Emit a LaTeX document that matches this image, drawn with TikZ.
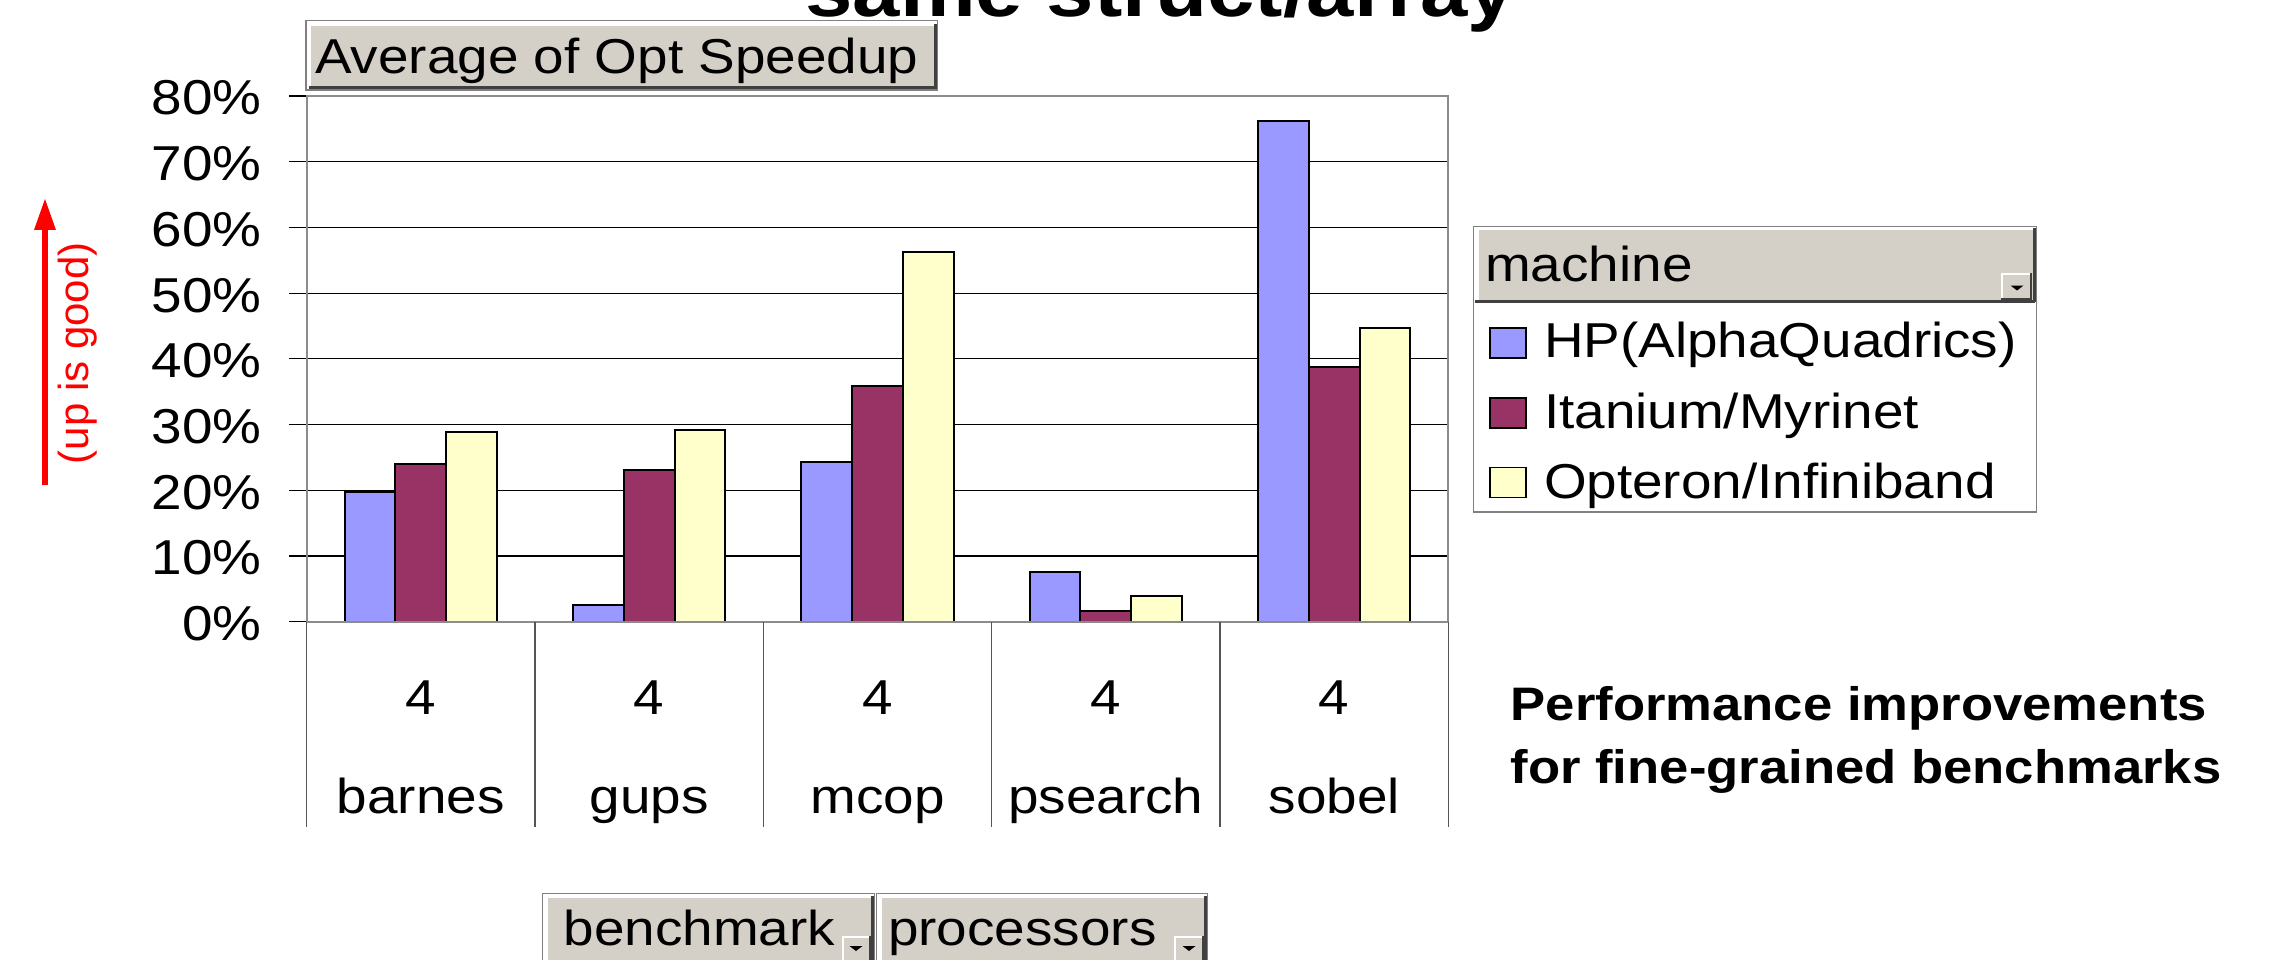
\documentclass[tikz,border=0pt]{standalone}
\usepackage{fontspec}
\setmainfont{Liberation Sans}[FakeStretch=1.12]
\newfontfamily\plainsans{Liberation Sans}
\usetikzlibrary{arrows.meta}
\definecolor{hpblue}{HTML}{9999FF}
\definecolor{itanium}{HTML}{993366}
\definecolor{opteron}{HTML}{FFFFCC}
\definecolor{btngray}{HTML}{D4D0C8}
\definecolor{btnedge}{HTML}{808080}
\definecolor{btnshadow}{HTML}{404040}
\definecolor{framegray}{HTML}{8C8C8C}
\definecolor{catline}{HTML}{555555}

% raised pivot-table field button: x1 y1 x2 y2
\newcommand{\pivbtn}[4]{%
  \fill[white] (#1,#2) rectangle (#3,#4);
  \draw[btnedge, line width=1.2pt] (#1,#2) rectangle (#3,#4);
  \fill[btngray] ({#1+5},{#2+5}) rectangle ({#3-3.5},{#4-3.5});
  \draw[btnshadow, line width=3pt] ({#1+3},{#4-2}) -- ({#3-2},{#4-2}) -- ({#3-2},{#2+3});
}
% small drop-down button: x1 y1 x2 y2, triangle centre x, triangle top y
\newcommand{\dropbtn}[6]{%
  \fill[btngray] (#1,#2) rectangle (#3,#4);
  \draw[white, line width=2pt] ({#1+1},#4) -- ({#1+1},{#2+1}) -- (#3,{#2+1});
  \draw[btnshadow, line width=2pt] (#1,{#4-1}) -- ({#3-1},{#4-1}) -- ({#3-1},#2);
  \fill[black] ({#5-6.5},#6) -- ({#5+6.5},#6) -- (#5,{#6+5}) -- cycle;
}

\begin{document}
\begin{tikzpicture}[x=1pt,y=-1pt,
  txt/.style={inner sep=0pt, font=\fontsize{49}{58}\selectfont},
  bartop/.style={draw=black, line width=2pt},
  gridln/.style={draw=black, line width=1.2pt},
  swatch/.style={draw=black, line width=1.8pt}]
\useasboundingbox (0,0) rectangle (2275,960);

% title (cut off at the top)
\begin{scope}
  \clip (0,0) rectangle (2275,960);
  \node[inner sep=0pt, anchor=base, font=\bfseries\fontsize{76}{90}\selectfont] (title) at (1160.5,17) {same struct/array};
\end{scope}

% data field button
\pivbtn{306}{20.7}{937.5}{90}
\node[txt, anchor=base west] (avg) at (315,73.3) {Average of Opt Speedup};

% gridlines
\foreach \v in {10,20,...,70}
  \draw[gridln] (306.7,{621.7-\v*6.5714}) -- (1448.3,{621.7-\v*6.5714});
% ticks and tick labels
\foreach \v in {0,10,...,80} {
  \draw[gridln] (289,{621.7-\v*6.5714}) -- (306.7,{621.7-\v*6.5714});
  \node[txt, anchor=base east] (tick\v) at (262,{621.7-\v*6.5714+19}) {\v\%};
}

% bars
\foreach \c/\a/\b/\d in {0/19.8/24.0/28.9, 1/2.5/23.1/29.2, 2/24.3/35.8/56.2, 3/7.6/1.7/3.9, 4/76.2/38.7/44.7} {
  \pgfmathsetmacro\xl{306.7+\c*228.33+38.05}
  \draw[bartop, fill=hpblue] (\xl,621.7) rectangle ({\xl+50.74},{621.7-\a*6.5714});
  \draw[bartop, fill=itanium] ({\xl+50.74},621.7) rectangle ({\xl+101.48},{621.7-\b*6.5714});
  \draw[bartop, fill=opteron] ({\xl+101.48},621.7) rectangle ({\xl+152.22},{621.7-\d*6.5714});
}

% plot frame and axis
\draw[framegray, line width=2pt] (306.7,621.7) -- (306.7,96) -- (1448.3,96) -- (1448.3,621.7);
\draw[framegray, line width=2pt] (306.7,621.7) -- (1448.3,621.7);

% category table lines
\foreach \i in {0,...,5}
  \draw[catline, line width=1.2pt] ({306.7+\i*228.33},621.7) -- ({306.7+\i*228.33},826.7);

% category labels
\foreach \i/\nm in {0/barnes,1/gups,2/mcop,3/psearch,4/sobel} {
  \node[txt, anchor=base] (proc\nm) at ({306.7+(\i+0.5)*228.33},714) {4};
  \node[txt, anchor=base] (cat\nm) at ({306.7+(\i+0.5)*228.33},813.3) {\nm};
}

% up-is-good arrow
\coordinate (arrtail) at (45,484.6);
\coordinate (arrtip) at (45,197.9);
\draw[red, line width=6pt, -{Triangle[length=32pt,width=20pt]}] (arrtail) -- (arrtip);
\node[red, rotate=90, inner sep=0pt, font=\plainsans\fontsize{42}{50}\selectfont] (upgood) at (77.5,353.2) {(up is good)};

% legend
\draw[btnedge, line width=1.2pt, fill=white] (1473.7,226.7) rectangle (2036.3,512);
\fill[btngray] (1478.7,230) rectangle (2033.6,300);
\draw[btnshadow, line width=3pt] (1475,301.5) -- (2035,301.5);
\draw[btnshadow, line width=3pt] (2034.8,228) -- (2034.8,301.5);
\dropbtn{2001}{272.7}{2032}{300}{2017}{285.5}
\node[txt, anchor=base west] (machine) at (1485,281.7) {machine};

\draw[swatch, fill=hpblue] (1490.2,328.3) rectangle (1525.8,358.3);
\draw[swatch, fill=itanium] (1490.2,398.3) rectangle (1525.8,428.3);
\draw[swatch, fill=opteron] (1490.2,467.5) rectangle (1525.8,497.5);
\node[txt, anchor=base west] (leghp) at (1543.8,357) {HP(AlphaQuadrics)};
\node[txt, anchor=base west] (legit) at (1543.8,428) {Itanium/Myrinet};
\node[txt, anchor=base west] (legop) at (1543.8,498) {Opteron/Infiniband};

% caption
\node[anchor=base west, inner sep=0pt, font=\bfseries\fontsize{47}{56}\selectfont] (perf1) at (1510.5,720) {Performance improvements};
\node[anchor=base west, inner sep=0pt, font=\bfseries\fontsize{47}{56}\selectfont] (perf2) at (1510.5,783) {for fine-grained benchmarks};

% row field buttons
\pivbtn{542.7}{893.3}{874.3}{975}
\pivbtn{876.7}{893.3}{1207.3}{975}
\node[txt, anchor=base west] (bench) at (563.3,945) {benchmark};
\node[txt, anchor=base west] (procs) at (888,945) {processors};
\dropbtn{842.3}{936}{870.7}{970}{856}{946}
\dropbtn{1173.6}{936}{1204.3}{970}{1189}{946}
\end{tikzpicture}
\end{document}
